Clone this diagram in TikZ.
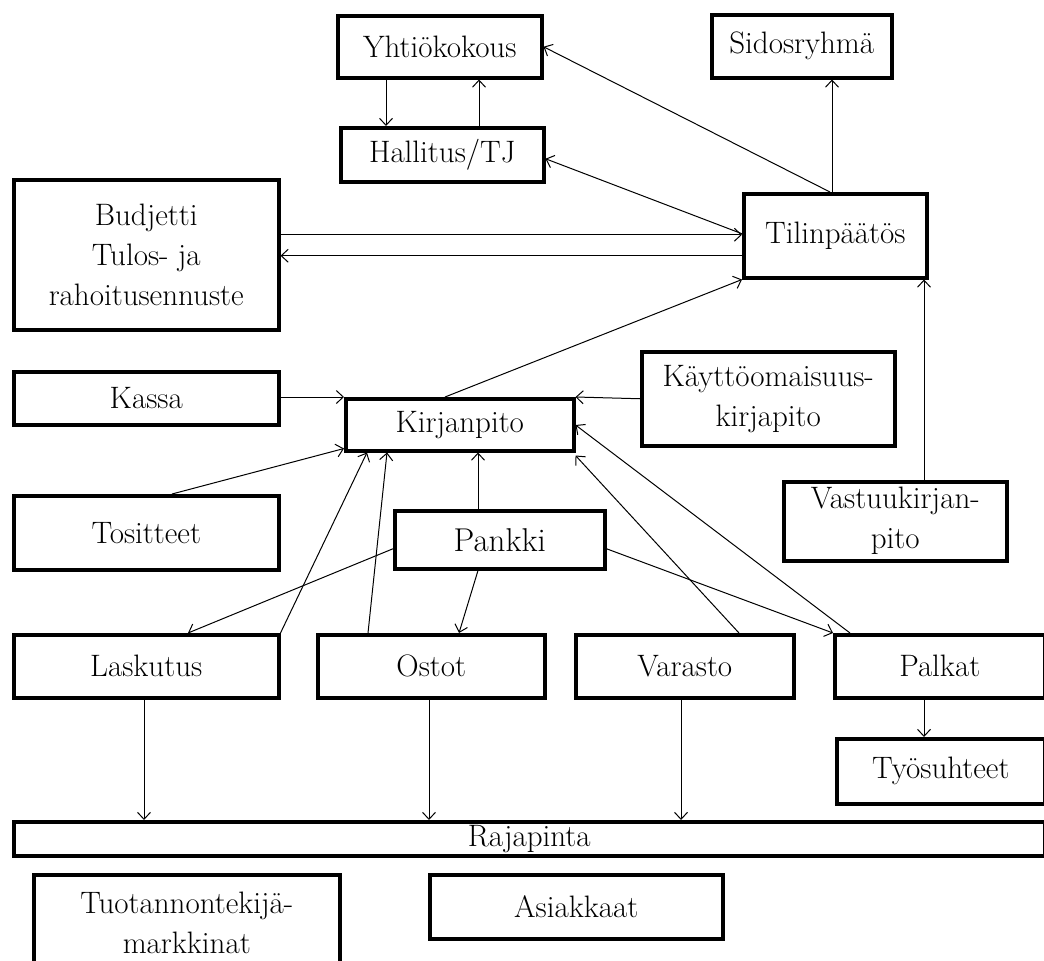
\documentclass[tikz,border=0pt]{standalone}
\usepackage{fontspec}
\usetikzlibrary{arrows.meta}
\begin{document}
\begin{tikzpicture}[x=1pt,y=-1pt,
  box/.style={draw=black,line width=3.5pt,rectangle,inner sep=0pt,anchor=north west,
    align=center,font=\fontsize{31}{40}\selectfont},
  conn/.style={draw=black,line width=1pt,-{Straight Barb[length=7pt,width=13pt]}}]
\useasboundingbox (0,0) rectangle (1044,961);
\clip (0,0) rectangle (1044,961);
% boxes: (left,top), width = right-left, height = bottom-top
\node[box,minimum width=204pt,minimum height=62pt] (yht) at (336,14) {Yhtiökokous};
\node[box,minimum width=203pt,minimum height=54pt] (hal) at (339,126) {Hallitus/TJ};
\node[box,minimum width=180pt,minimum height=63pt] (sid) at (710,13) {Sidosryhmä};
\node[box,minimum width=265pt,minimum height=150pt] (bud) at (12,178) {Budjetti\\Tulos- ja\\rahoitusennuste};
\node[box,minimum width=183pt,minimum height=84pt] (til) at (742,192) {Tilinpäätös};
\node[box,minimum width=253pt,minimum height=94pt] (kay) at (640,350) {Käyttöomaisuus-\\kirjapito};
\node[box,minimum width=265pt,minimum height=53pt] (kas) at (12,370) {Kassa};
\node[box,minimum width=228pt,minimum height=52pt] (kir) at (344,397) {Kirjanpito};
\node[box,minimum width=265pt,minimum height=74pt] (tos) at (12,494) {Tositteet};
\node[box,minimum width=210pt,minimum height=58pt,font=\fontsize{33}{40}\selectfont] (pan) at (393,509) {Pankki};
\node[box,minimum width=223pt,minimum height=79pt] (vas) at (782,480) {Vastuukirjan-\\pito};
\node[box,minimum width=265pt,minimum height=63pt] (las) at (12,633) {Laskutus};
\node[box,minimum width=227pt,minimum height=63pt] (ost) at (316,633) {Ostot};
\node[box,minimum width=218pt,minimum height=63pt] (var) at (574,633) {Varasto};
\node[box,minimum width=210pt,minimum height=63pt] (pal) at (833,633) {Palkat};
\node[box,minimum width=208pt,minimum height=65pt] (tyo) at (835,737) {Työsuhteet};
\node[box,minimum width=1031pt,minimum height=34pt] (raj) at (12,820) {Rajapinta};
\node[box,minimum width=306pt,minimum height=96pt] (tuo) at (32,873) {Tuotannontekijä-\\markkinat};
\node[box,minimum width=293pt,minimum height=64pt] (asi) at (428,873) {Asiakkaat};
% coordinates for parallel lines
\coordinate (b1) at ([yshift=20pt]bud.east);
\coordinate (b2) at ([yshift=-1pt]bud.east);
% connectors
\draw[conn] ([xshift=50pt]yht.south west) -- ([xshift=47pt]hal.north west);
\draw[conn] ([xshift=140pt]hal.north west) -- ([xshift=143pt]yht.south west);
\draw[conn] ([xshift=88pt]til.north west) -- (yht.east);
\draw[conn] ([xshift=90pt]til.north west) -- ([xshift=122pt]sid.south west);
\draw[conn] ([yshift=2pt]til.west) -- ([yshift=-4pt]hal.east);
\draw[conn] (b1) -- (b1 -| til.west);
\draw[conn] (b2 -| til.west) -- (b2);
\draw[conn] ([xshift=101pt]kir.north west) -- (til.south west);
\draw[conn] ([xshift=142pt]vas.north west) -- ([xshift=142pt]vas.north west |- til.south);
\draw[conn] ([yshift=-27pt]kas.north east) -- (kir.north west);
\draw[conn] (kay.west) -- (kir.north east);
\draw[conn] ([xshift=160pt]tos.north west) -- ([yshift=4pt]kir.south west);
\draw[conn] (las.north east) -- ([xshift=23pt]kir.south west);
\draw[conn] ([xshift=52pt]ost.north west) -- ([xshift=43pt]kir.south west);
\draw[conn] ([xshift=85pt]pan.north west) -- ([xshift=85pt]pan.north west |- kir.south);
\draw[conn] ([yshift=-9pt]pan.west) -- ([xshift=176pt]las.north west);
\draw[conn] ([xshift=85pt]pan.south west) -- ([xshift=143pt]ost.north west);
\draw[conn] ([xshift=165pt]var.north west) -- ([yshift=-3pt]kir.south east);
\draw[conn] ([xshift=17pt]pal.north west) -- ([yshift=-28pt]kir.north east);
\draw[conn] ([yshift=-9pt]pan.east) -- (pal.north west);
\draw[conn] ([xshift=132pt]las.south west) -- ([xshift=132pt]las.south west |- raj.north);
\draw[conn] ([xshift=113pt]ost.south west) -- ([xshift=113pt]ost.south west |- raj.north);
\draw[conn] ([xshift=107pt]var.south west) -- ([xshift=107pt]var.south west |- raj.north);
\draw[conn] ([xshift=91pt]pal.south west) -- ([xshift=91pt]pal.south west |- tyo.north);
\end{tikzpicture}
\end{document}
